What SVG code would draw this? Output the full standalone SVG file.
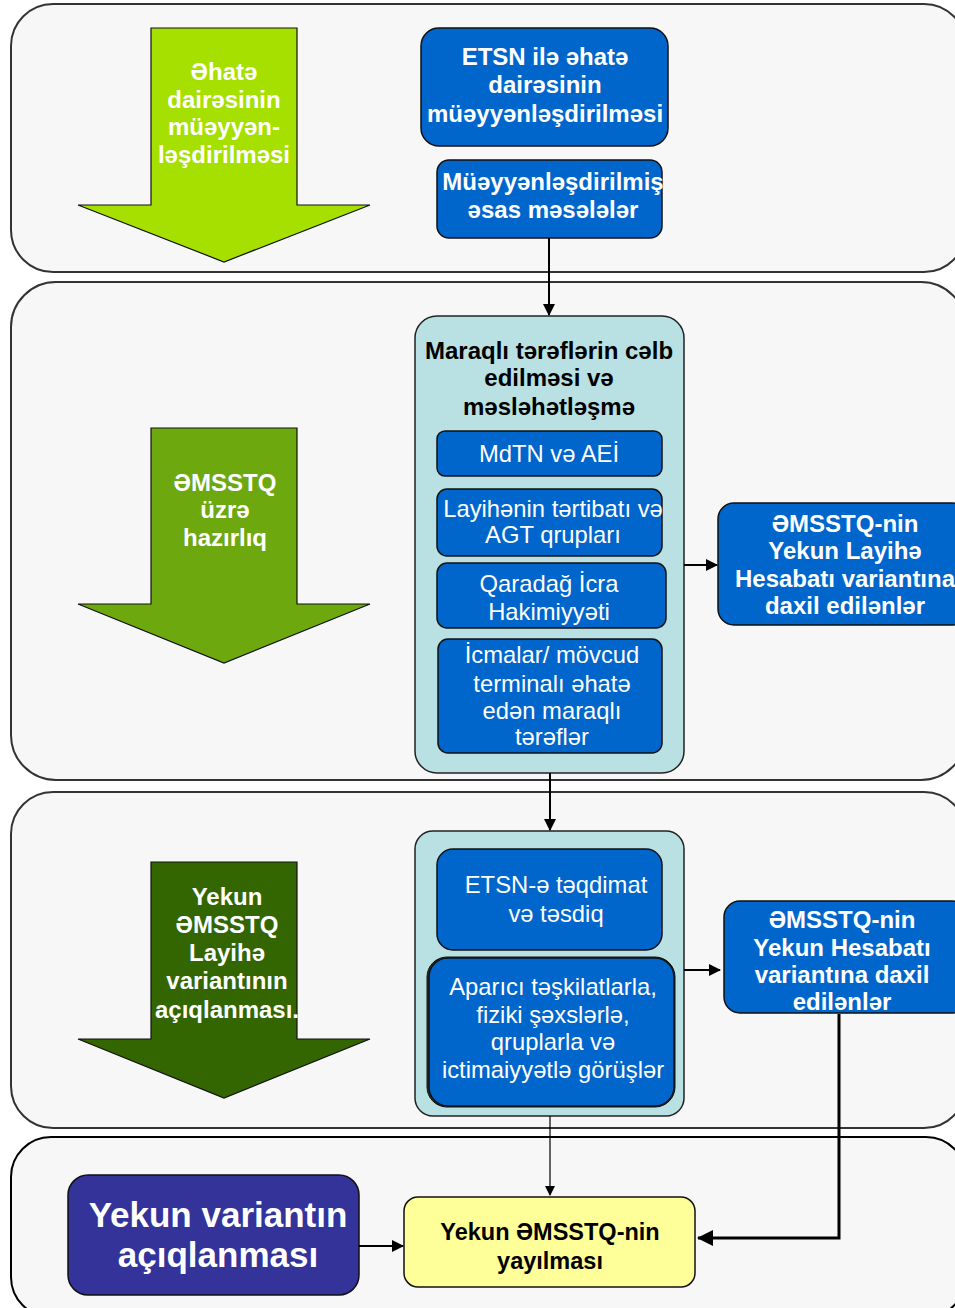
<svg xmlns="http://www.w3.org/2000/svg" width="955" height="1308" viewBox="0 0 955 1308">
<style>
.panel{fill:#f7f7f7;stroke:#333;stroke-width:2}
.blue{fill:#0066cc;stroke:#111;stroke-width:1.5}
.teal{fill:#b9e0e2;stroke:#222;stroke-width:1.5}
.arr{stroke:#111;stroke-width:1.2}
text{font-family:"Liberation Sans",Arial,sans-serif;text-anchor:middle}
.wb{fill:#fff;font-weight:bold;font-size:24px}
.wr{fill:#fff;font-size:23.8px}
.kb{fill:#000;font-weight:bold;font-size:24px}
.con{fill:none;stroke:#000;stroke-width:2}
</style>
<defs>
<marker id="ah" markerUnits="userSpaceOnUse" markerWidth="12" markerHeight="12" refX="11" refY="6" orient="auto">
<path d="M0,0 L12,6 L0,12 Z" fill="#000"/>
</marker>
<marker id="ahs" markerUnits="userSpaceOnUse" markerWidth="10" markerHeight="12" refX="9" refY="6" orient="auto">
<path d="M0,1 L10,6 L0,11 Z" fill="#000"/>
</marker>
<marker id="ahb" markerUnits="userSpaceOnUse" markerWidth="16" markerHeight="16" refX="15" refY="8" orient="auto">
<path d="M0,0 L16,8 L0,16 Z" fill="#000"/>
</marker>
</defs>

<g id="panels">
<rect class="panel" x="11" y="4" width="955" height="268" rx="42"/>
<rect class="panel" x="11" y="282" width="955" height="498" rx="45"/>
<rect class="panel" x="11" y="792" width="955" height="336" rx="42"/>
<rect class="panel" x="11" y="1137" width="955" height="180" rx="40" style="stroke:#000"/>
</g>

<g id="arrow-scope">
<path class="arr" d="M151,28 H297 V205 H370 L224,262 L78,205 H151 Z" fill="#a5e000"/>
<text class="wb"><tspan x="224" y="80">Əhatə</tspan><tspan x="224" y="108">dairəsinin</tspan><tspan x="224" y="135">müəyyən-</tspan><tspan x="224" y="163">ləşdirilməsi</tspan></text>
</g>

<g id="arrow-prep">
<path class="arr" d="M151,428 H297 V604 H370 L224,663 L78,604 H151 Z" fill="#6ea80f"/>
<text class="wb"><tspan x="225" y="491">ƏMSSTQ</tspan><tspan x="225" y="518">üzrə</tspan><tspan x="225" y="546">hazırlıq</tspan></text>
</g>

<g id="arrow-disclosure">
<path class="arr" d="M151,862 H297 V1039 H370 L224,1098 L78,1039 H151 Z" fill="#336600"/>
<text class="wb"><tspan x="227" y="905">Yekun</tspan><tspan x="227" y="933">ƏMSSTQ</tspan><tspan x="227" y="961">Layihə</tspan><tspan x="227" y="989">variantının</tspan><tspan x="227" y="1018">açıqlanması.</tspan></text>
</g>

<g id="etsn-scope">
<rect class="blue" x="421" y="28" width="247" height="118" rx="18"/>
<text class="wb"><tspan x="545" y="65">ETSN ilə əhatə</tspan><tspan x="545" y="93">dairəsinin</tspan><tspan x="545" y="122">müəyyənləşdirilməsi</tspan></text>
</g>

<g id="key-issues">
<rect class="blue" x="437" y="160" width="225" height="78" rx="12"/>
<text class="wb"><tspan x="553" y="190">Müəyyənləşdirilmiş</tspan><tspan x="553" y="218">əsas məsələlər</tspan></text>
</g>

<g id="stakeholder-group">
<rect class="teal" x="415" y="316" width="269" height="457" rx="22"/>
<text class="kb"><tspan x="549" y="359">Maraqlı tərəflərin cəlb</tspan><tspan x="549" y="386">edilməsi və</tspan><tspan x="549" y="415">məsləhətləşmə</tspan></text>
</g>

<g id="mdtn">
<rect class="blue" x="437" y="431" width="225" height="45" rx="8"/>
<text class="wr" x="549" y="462">MdTN və AEİ</text>
</g>

<g id="layihe">
<rect class="blue" x="437" y="489" width="225" height="67" rx="10"/>
<text class="wr"><tspan x="553" y="517">Layihənin tərtibatı və</tspan><tspan x="553" y="543">AGT qrupları</tspan></text>
</g>

<g id="qaradag">
<rect class="blue" x="437" y="563" width="229" height="65" rx="10"/>
<text class="wr"><tspan x="549" y="592">Qaradağ İcra</tspan><tspan x="549" y="620">Hakimiyyəti</tspan></text>
</g>

<g id="icmalar">
<rect class="blue" x="438" y="639" width="224" height="114" rx="10"/>
<text class="wr"><tspan x="552" y="663">İcmalar/ mövcud</tspan><tspan x="552" y="692">terminalı əhatə</tspan><tspan x="552" y="719">edən maraqlı</tspan><tspan x="552" y="745">tərəflər</tspan></text>
</g>

<g id="draft-included">
<rect class="blue" x="718" y="503" width="250" height="122" rx="16"/>
<text class="wb"><tspan x="845" y="532">ƏMSSTQ-nin</tspan><tspan x="845" y="559">Yekun Layihə</tspan><tspan x="845" y="587">Hesabatı variantına</tspan><tspan x="845" y="614">daxil edilənlər</tspan></text>
</g>

<g id="submission-group">
<rect class="teal" x="415" y="831" width="269" height="285" rx="18"/>
</g>

<g id="etsn-submission">
<rect class="blue" x="437" y="849" width="225" height="101" rx="16"/>
<text class="wr"><tspan x="556" y="893">ETSN-ə təqdimat</tspan><tspan x="556" y="922">və təsdiq</tspan></text>
</g>

<g id="meetings">
<rect x="427" y="957" width="248" height="150" rx="20" fill="#333" stroke="#111" stroke-width="1"/>
<rect class="blue" x="429" y="958" width="245" height="148" rx="19"/>
<text class="wr"><tspan x="553" y="995">Aparıcı təşkilatlarla,</tspan><tspan x="553" y="1023">fiziki şəxslərlə,</tspan><tspan x="553" y="1050">qruplarla və</tspan><tspan x="553" y="1078">ictimaiyyətlə görüşlər</tspan></text>
</g>

<g id="final-included">
<rect class="blue" x="724" y="901" width="244" height="112" rx="16"/>
<text class="wb"><tspan x="842" y="928">ƏMSSTQ-nin</tspan><tspan x="842" y="956">Yekun Hesabatı</tspan><tspan x="842" y="983">variantına daxil</tspan><tspan x="842" y="1010">edilənlər</tspan></text>
</g>

<g id="final-disclosure">
<rect x="68" y="1175" width="291" height="120" rx="20" fill="#333399" stroke="#111" stroke-width="1.5"/>
<text fill="#fff" font-weight="bold" font-size="35"><tspan x="218" y="1227">Yekun variantın</tspan><tspan x="218" y="1267">açıqlanması</tspan></text>
</g>

<g id="dissemination">
<rect x="404" y="1197" width="291" height="90" rx="14" fill="#ffff99" stroke="#111" stroke-width="1.5"/>
<text class="kb" style="font-size:23.5px"><tspan x="550" y="1240">Yekun ƏMSSTQ-nin</tspan><tspan x="550" y="1269">yayılması</tspan></text>
</g>

<g id="connectors">
<line class="con" x1="549" y1="238" x2="549" y2="315" marker-end="url(#ah)"/>
<line class="con" x1="550" y1="773" x2="550" y2="830" marker-end="url(#ah)"/>
<line class="con" x1="684" y1="565" x2="717" y2="565" marker-end="url(#ah)"/>
<line class="con" x1="684" y1="970" x2="720" y2="970" marker-end="url(#ah)"/>
<line x1="550" y1="1116" x2="550" y2="1195" stroke="#000" stroke-width="1.2" marker-end="url(#ahs)"/>
<polyline points="839,1014 839,1238 698,1238" fill="none" stroke="#000" stroke-width="3" marker-end="url(#ahb)"/>
<line class="con" x1="359" y1="1246" x2="403" y2="1246" marker-end="url(#ah)"/>
</g>
</svg>
